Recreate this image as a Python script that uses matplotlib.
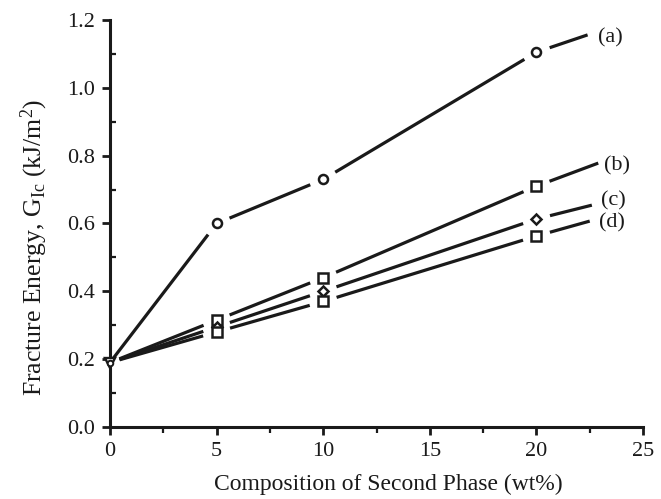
#!/usr/bin/env python3

import numpy as np
import matplotlib
matplotlib.use("Agg")
import matplotlib.pyplot as plt
from matplotlib.ticker import MultipleLocator, FormatStrFormatter

# values
composition = [0, 5, 10, 20]
energy_a = [0.19, 0.60, 0.73, 1.105]
energy_b = [0.19, 0.315, 0.44, 0.71]
energy_c = [0.19, 0.295, 0.40, 0.613]
energy_d = [0.19, 0.28, 0.37, 0.563]
series_labels = ["(a)", "(b)", "(c)", "(d)"]
series_markers = ["o", "s", "D", "s"]
# where each drawn line stops past the last data point
line_end_x = [22.4, 22.9, 22.6, 22.5]
line_end_y = [1.156, 0.778, 0.654, 0.607]

plt.rcParams["font.family"] = ["Liberation Serif", "DejaVu Serif"]
plt.rcParams["mathtext.fontset"] = "custom"
plt.rcParams["mathtext.rm"] = "Liberation Serif"
plt.rcParams["mathtext.it"] = "Liberation Serif"

fig = plt.figure(figsize=(6.61, 4.99), dpi=100)
ax = fig.add_axes([0.1664, 0.1443, 0.8064, 0.8157])
ax.set_xlim(0, 25)
ax.set_ylim(0, 1.2)
ax.set_autoscale_on(False)

ink = "#1a1a1a"


def gapped_line(xs, ys, gap_start, gap):
    # draw polyline broken around each marker, gaps in pixels
    pts = ax.transData.transform(np.column_stack([xs, ys]).astype(float))
    inv = ax.transData.inverted()
    n = len(pts)
    for i in range(n - 1):
        p, q = pts[i], pts[i + 1]
        d = (q - p) / np.hypot(*(q - p))
        g0 = gap_start if i == 0 else gap
        g1 = gap if i + 1 < n - 1 else 0
        seg = inv.transform(np.array([p + d * g0, q - d * g1]))
        ax.plot(seg[:, 0], seg[:, 1], color=ink, lw=2.3, solid_capstyle="butt", clip_on=False)


# label placement next to the line ends (pixels)
label_nudge = [(10, -3), (6, -3), (9, 4), (9, -2)]

all_series = [energy_a, energy_b, energy_c, energy_d]
for k, ys in enumerate(all_series):
    xs = composition + [line_end_x[k]]
    yy = ys + [line_end_y[k]]
    gapped_line(xs, yy, 0 if k == 0 else 10, 14)
    ms = 5 if series_markers[k] == "D" else 6.5
    ax.plot(composition[1:], ys[1:], linestyle="none", marker=series_markers[k], ms=ms,
            mfc="white", mec=ink, mew=1.8, clip_on=False, zorder=3)
    ax.annotate(series_labels[k], (line_end_x[k], line_end_y[k]), xytext=label_nudge[k],
                textcoords="offset pixels", fontsize=16, color=ink, va="center", ha="left")

# origin point is drawn as a circle over a down triangle
ax.plot([composition[0]], [energy_a[0]], linestyle="none", marker="v", ms=7.5,
        mfc="white", mec=ink, mew=1.7, clip_on=False, zorder=4)
ax.plot([composition[0]], [energy_a[0]], linestyle="none", marker="o", ms=4,
        mfc="white", mec=ink, mew=1.4, clip_on=False, zorder=5)

for side in ["top", "right"]:
    ax.spines[side].set_visible(False)
for side in ["left", "bottom"]:
    ax.spines[side].set_linewidth(2.2)
    ax.spines[side].set_color(ink)

ax.xaxis.set_major_locator(MultipleLocator(5))
ax.xaxis.set_minor_locator(MultipleLocator(2.5))
ax.yaxis.set_major_locator(MultipleLocator(0.2))
ax.yaxis.set_minor_locator(MultipleLocator(0.1))
ax.yaxis.set_major_formatter(FormatStrFormatter("%.1f"))
ax.tick_params(which="major", direction="out", length=6, width=2.0, color=ink,
               labelsize=16, labelcolor=ink, pad=5)
ax.tick_params(which="minor", direction="out", length=4, width=1.6, color=ink)
ax.tick_params(axis="y", which="minor", direction="in")

ax.set_xlabel("Composition of Second Phase (wt%)", fontsize=17, color=ink)
ax.set_ylabel(r"Fracture Energy, G$_{\mathrm{Ic}}$ (kJ/m$^{2}$)", fontsize=18.5, color=ink)
ax.xaxis.set_label_coords(0.522, -0.115)
ax.yaxis.set_label_coords(-0.112, 0.44)

fig.savefig("out.png", dpi=100)
